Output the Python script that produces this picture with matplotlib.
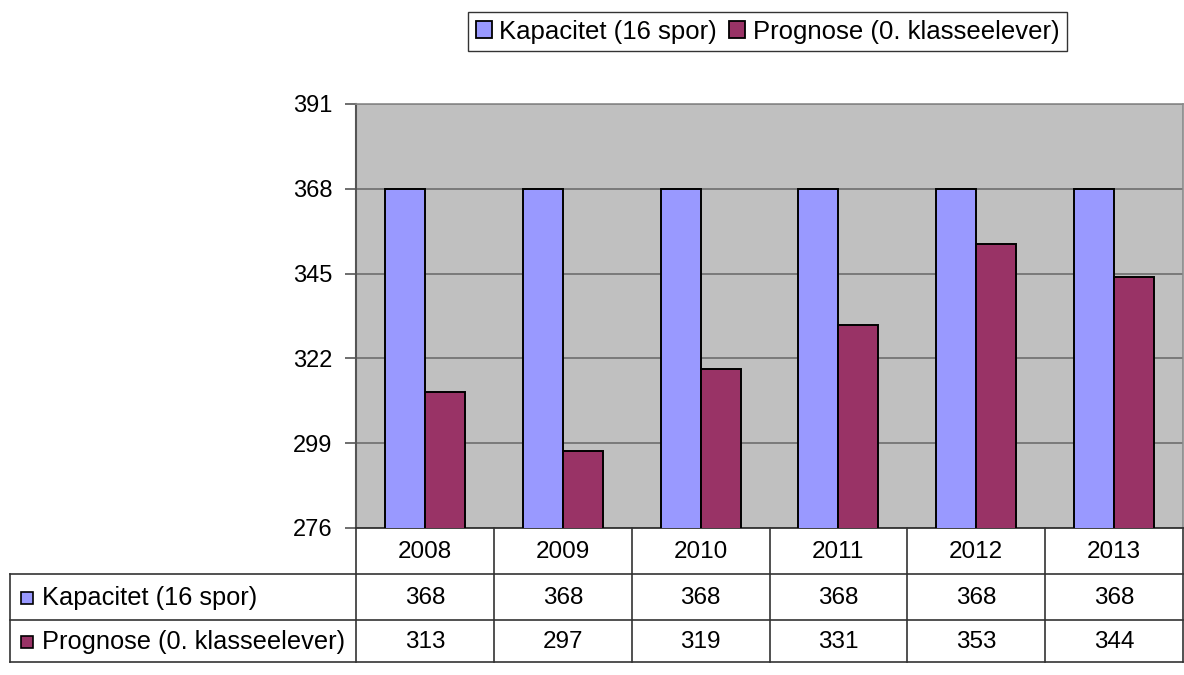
import matplotlib.pyplot as plt
import numpy as np
from matplotlib.patches import Patch

years = ["2008", "2009", "2010", "2011", "2012", "2013"]
kapacitet = [368, 368, 368, 368, 368, 368]
prognose = [313, 297, 319, 331, 353, 344]
series_names = ["Kapacitet (16 spor)", "Prognose (0. klasseelever)"]
colors = ["#9999FF", "#993366"]
yticks = [276, 299, 322, 345, 368, 391]

plt.rcParams['font.family'] = ['Liberation Sans', 'DejaVu Sans']

W, H = 1184, 675
fig = plt.figure(figsize=(W / 100, H / 100), dpi=100)

# plot area in pixels
px0, px1, py0, py1 = 356, 1183, 104, 528
ax = fig.add_axes([px0 / W, 1 - py1 / H, (px1 - px0) / W, (py1 - py0) / H])
ax.set_facecolor("#C0C0C0")

x = np.arange(len(years)) + 0.5
bw = 0.29
ax.bar(x - bw / 2, kapacitet, bw, color=colors[0], edgecolor="black", linewidth=1.4, zorder=3)
ax.bar(x + bw / 2, prognose, bw, color=colors[1], edgecolor="black", linewidth=1.4, zorder=3)

ax.set_xlim(0, len(years))
ax.set_ylim(yticks[0], yticks[-1])
ax.set_yticks(yticks)
ax.set_xticks([])
ax.tick_params(axis="y", length=8, width=1.2, color="#555555", labelsize=17, pad=9)
ax.yaxis.grid(True, color="#6E6E6E", linewidth=1.2, zorder=1)
for s in ["top", "right"]:
    ax.spines[s].set_color("#8A8A8A")
    ax.spines[s].set_linewidth(1.2)
ax.spines["left"].set_color("#555555")
ax.spines["left"].set_linewidth(1.5)
ax.spines["bottom"].set_color("#333333")
ax.spines["bottom"].set_linewidth(1.3)

# data table below the chart
tx0, ty1 = 10, 662
tax = fig.add_axes([0, 0, 1, 1])
tax.set_xlim(0, W)
tax.set_ylim(H, 0)
tax.axis("off")
tax.patch.set_alpha(0)

cw = (px1 - px0) / len(years)
rows = [py1, 574, 620, ty1]
lc = "#333333"
for yy in rows[1:]:
    tax.plot([tx0, px1], [yy, yy], color=lc, linewidth=1.2)
tax.plot([tx0, tx0], [rows[1], ty1], color=lc, linewidth=1.2)
for i in range(len(years) + 1):
    tax.plot([px0 + i * cw] * 2, [py1, ty1], color=lc, linewidth=1.2)

values = [kapacitet, prognose]
for i, yr in enumerate(years):
    cx = px0 + (i + 0.5) * cw
    tax.text(cx, (rows[0] + rows[1]) / 2 + 1, yr, ha="center", va="center", fontsize=17.5)
    for r, vals in enumerate(values):
        tax.text(cx, (rows[r + 1] + rows[r + 2]) / 2 + 1, str(vals[i]),
                 ha="center", va="center", fontsize=17.5)

for r, name in enumerate(series_names):
    cy = (rows[r + 1] + rows[r + 2]) / 2 + 1
    tax.add_patch(plt.Rectangle((21, cy - 6), 12, 12, facecolor=colors[r],
                                edgecolor="black", linewidth=1.2))
    tax.text(42, cy, name, ha="left", va="center", fontsize=18.3)

# legend on top
handles = [Patch(facecolor=c, edgecolor="black", linewidth=1.3) for c in colors]
leg = fig.legend(handles, series_names, loc="upper left",
                 bbox_to_anchor=(468 / W, 1 - 12 / H), ncol=2, fontsize=18.5,
                 frameon=True, fancybox=False, edgecolor="black",
                 handlelength=0.62, handleheight=0.62, handletextpad=0.28,
                 columnspacing=0.5, borderpad=0.3, borderaxespad=0)
leg.get_frame().set_linewidth(1.0)

fig.savefig("out.png", dpi=100)
